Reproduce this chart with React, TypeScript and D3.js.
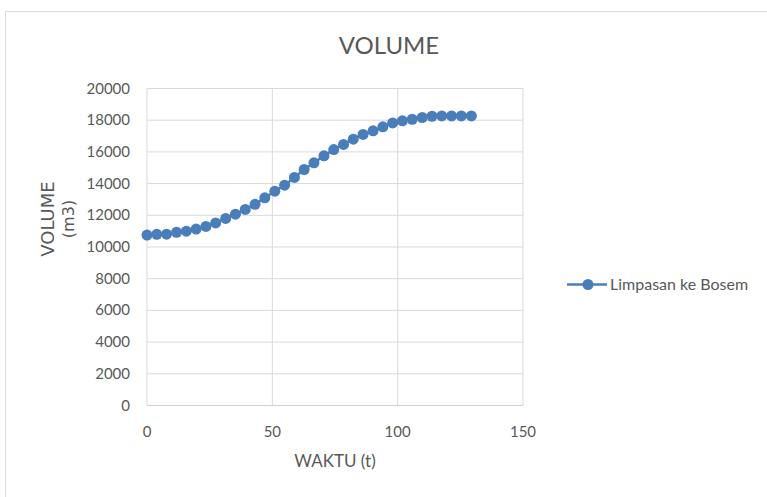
import React from "react";
import * as d3 from "d3";

const times = [0, 3.9, 7.8, 11.8, 15.7, 19.6, 23.5, 27.4, 31.4, 35.3, 39.2, 43.1, 47, 51, 54.9, 58.8, 62.7, 66.6, 70.6, 74.5, 78.4, 82.3, 86.2, 90.2, 94.1, 98, 101.9, 105.8, 109.8, 113.7, 117.6, 121.5, 125.4, 129.4];
const volumes = [10750, 10800, 10810, 10930, 11000, 11130, 11300, 11520, 11800, 12070, 12370, 12690, 13100, 13520, 13900, 14390, 14890, 15310, 15750, 16150, 16470, 16800, 17100, 17330, 17580, 17830, 17960, 18060, 18170, 18250, 18270, 18270, 18270, 18270];
const xTicks = [0, 50, 100, 150];
const yTicks = [0, 2000, 4000, 6000, 8000, 10000, 12000, 14000, 16000, 18000, 20000];
const seriesName = "Limpasan ke Bosem";
const title = "VOLUME";
const xTitle = "WAKTU (t)";
const yTitle1 = "VOLUME";
const yTitle2 = "(m3)";

export default function App() {
  const W = 767, H = 497;
  const x = d3.scaleLinear().domain([0, 150]).range([147, 523]);
  const y = d3.scaleLinear().domain([0, 20000]).range([405.5, 88.5]);
  const data = times.map((t, i) => ({ t, v: volumes[i] }));
  const line = d3.line<{ t: number; v: number }>().x(d => x(d.t)).y(d => y(d.v));
  const blue = "#4a7ebb";
  const grid = "#d9d9d9";
  const txt = "#595959";
  const font = "Lato, 'Open Sans', sans-serif";
  return (
    <svg width={W} height={H} style={{ position: "absolute", left: 0, top: 0, background: "#fff" }}>
      <rect x={5.5} y={11.5} width={W + 10} height={H + 10} fill="#fff" stroke={grid} />
      <text x={389} y={54} textAnchor="middle" fontFamily={font} fontSize={24} fill={txt}>{title}</text>
      {yTicks.map(v => (
        <line key={"gy" + v} x1={x(0)} x2={x(150)} y1={y(v)} y2={y(v)} stroke={v === 0 ? "#d0d0d0" : grid} strokeWidth={1} />
      ))}
      {xTicks.map(v => (
        <line key={"gx" + v} x1={x(v)} x2={x(v)} y1={y(0)} y2={y(20000)} stroke={grid} strokeWidth={1} />
      ))}
      {yTicks.map(v => (
        <text key={"ty" + v} x={130} y={y(v) + 5} textAnchor="end" fontFamily={font} fontSize={15} fill={txt}>{v}</text>
      ))}
      {xTicks.map(v => (
        <text key={"tx" + v} x={x(v)} y={437} textAnchor="middle" fontFamily={font} fontSize={15} fill={txt}>{v}</text>
      ))}
      <text x={335} y={467} textAnchor="middle" fontFamily={font} fontSize={17} fill={txt}>{xTitle}</text>
      <text transform="translate(53.5,219) rotate(-90)" textAnchor="middle" fontFamily="'DejaVu Sans', sans-serif" fontSize={18} fill={txt}>{yTitle1}</text>
      <text transform="translate(74,219) rotate(-90)" textAnchor="middle" fontFamily="'DejaVu Sans', sans-serif" fontSize={16} fill={txt}>{yTitle2}</text>
      <path d={line(data) || ""} fill="none" stroke={blue} strokeWidth={2.5} />
      {data.map((d, i) => (
        <circle key={i} cx={x(d.t)} cy={y(d.v)} r={5.5} fill={blue} />
      ))}
      <line x1={567} x2={607} y1={284.5} y2={284.5} stroke={blue} strokeWidth={2.5} />
      <circle cx={588} cy={284.5} r={5.5} fill={blue} />
      <text x={610} y={290} fontFamily={font} fontSize={16} fill={txt}>{seriesName}</text>
    </svg>
  );
}
